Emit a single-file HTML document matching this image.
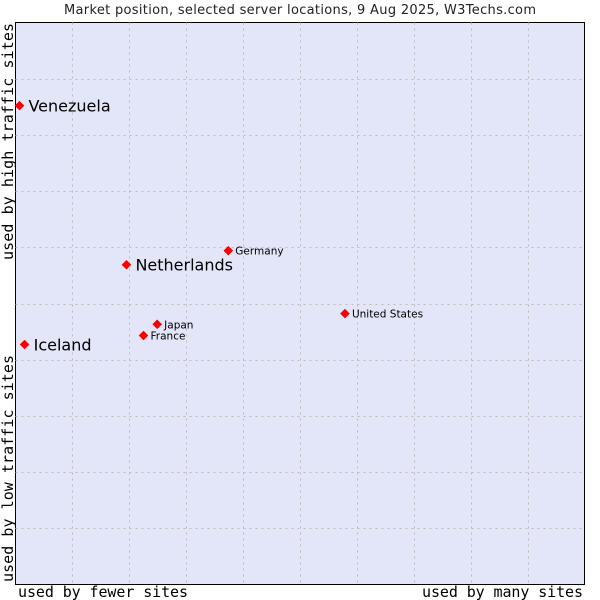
<!DOCTYPE html>
<html><head><meta charset="utf-8"><style>
body{margin:0;background:#fff;width:600px;height:600px;overflow:hidden}
svg{display:block}
</style></head><body>
<svg id="chart" width="600" height="600">
<text x="300" y="14" text-anchor="middle" font-family="DejaVu Sans, sans-serif" font-size="13" textLength="472" fill="#222">Market position, selected server locations, 9 Aug 2025, W3Techs.com</text>
<rect x="15.5" y="22.5" width="569" height="562" fill="#e3e5f8" stroke="#000" stroke-width="1"/>
<g id="grid"></g>
<g id="points"></g>
<text x="18" y="597" font-family="DejaVu Sans Mono, monospace" font-size="15" textLength="170" fill="#000">used by fewer sites</text>
<text x="422" y="597" font-family="DejaVu Sans Mono, monospace" font-size="15" textLength="161" fill="#000">used by many sites</text>
<text transform="translate(13,582) rotate(-90)" font-family="DejaVu Sans Mono, monospace" font-size="15" textLength="227" fill="#000">used by low traffic sites</text>
<text transform="translate(13,260) rotate(-90)" font-family="DejaVu Sans Mono, monospace" font-size="15" textLength="237" fill="#000">used by high traffic sites</text>
</svg>
<script>
const names=["Venezuela","Netherlands","Germany","United States","Japan","France","Iceland"];
const xVals=[0.07,1.95,3.74,5.79,2.49,2.25,0.16];
const yVals=[8.52,5.69,5.94,4.82,4.63,4.43,4.27];
const big=[true,true,false,false,false,false,true];
const L=15.5,R=584.5,T=22.5,B=584.5;
const sx=v=>L+v/10*(R-L), sy=v=>B-v/10*(B-T);
const NS="http://www.w3.org/2000/svg";
const grid=document.getElementById('grid');
for(let i=1;i<10;i++){
  const v=document.createElementNS(NS,'line');
  
  
  const x=Math.round(sx(i))+0.5;
  v.setAttribute('x1',x);v.setAttribute('x2',x);v.setAttribute('y1',T);v.setAttribute('y2',B);
  v.setAttribute('stroke','#bbb');v.setAttribute('stroke-dasharray','2,4');
  grid.appendChild(v);
  const h=document.createElementNS(NS,'line');
  
  
  const y=Math.round(sy(i))+0.5;
  h.setAttribute('y1',y);h.setAttribute('y2',y);h.setAttribute('x1',L);h.setAttribute('x2',R);
  h.setAttribute('stroke','#bbb');h.setAttribute('stroke-dasharray','2,4');
  grid.appendChild(h);
}
const pts=document.getElementById('points');
names.forEach((n,i)=>{
  const x=sx(xVals[i]),y=sy(yVals[i]);
  const p=document.createElementNS(NS,'path');
  
  
  p.setAttribute('d',`M${x} ${y-4.5}L${x+4.5} ${y}L${x} ${y+4.5}L${x-4.5} ${y}Z`);
  p.setAttribute('fill','#f00');p.setAttribute('stroke','#c00');p.setAttribute('stroke-width','0.5');
  pts.appendChild(p);
  const t=document.createElementNS(NS,'text');
  
  
  t.setAttribute('x',x+(big[i]?9:7));
  t.setAttribute('y',y+(big[i]?6:4));
  t.setAttribute('font-family','DejaVu Sans, sans-serif');
  t.setAttribute('font-size',big[i]?'16':'10.5');
  t.setAttribute('fill','#000');
  t.textContent=n;
  pts.appendChild(t);
});
</script>
</body></html>
